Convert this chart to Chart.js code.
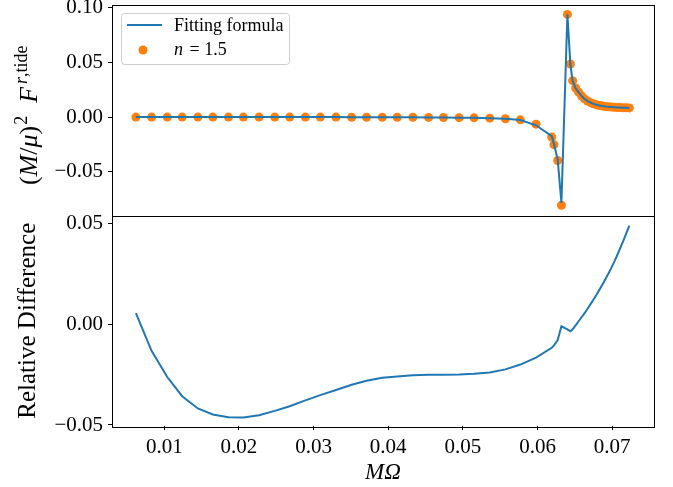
<!DOCTYPE html>
<html>
<head>
<meta charset="utf-8">
<script src="https://cdn.jsdelivr.net/npm/chart.js@4.4.0/dist/chart.umd.min.js"></script>
<style>
  html, body { margin: 0; background: #fff; }
  #wrap { width: 673px; height: 487px; }
</style>
</head>
<body>
<div id="wrap"><canvas id="chart" width="673" height="487"></canvas></div>
<script>
// M*Omega sample points (shared by both panels)
const omega = [
  0.0062, 0.0083, 0.0104, 0.0124, 0.0145, 0.0165, 0.0186, 0.0206, 0.0227, 0.0248,
  0.0268, 0.0289, 0.0309, 0.0330, 0.0351, 0.0371, 0.0392, 0.0412, 0.0433, 0.0454,
  0.0474, 0.0495, 0.0515, 0.0536, 0.0557, 0.0577, 0.0598,
  0.0619, 0.0622, 0.0627, 0.0632, 0.0640, 0.0644, 0.0647, 0.0651,
  0.0655, 0.0659, 0.0663, 0.0667, 0.0671, 0.0675, 0.0679, 0.0683, 0.0687, 0.0691,
  0.0695, 0.0699, 0.0703, 0.0707, 0.0711, 0.0715, 0.0719, 0.0723
];
// n = 1.5 data points
const forceData = [
  0, 0, 0, 0, 0, 0, 0, 0, 0, 0,
  0, 0, 0, 0, -0.0001, -0.0001, -0.0001, -0.0002, -0.0002, -0.0003,
  -0.0004, -0.0005, -0.0007, -0.0010, -0.0015, -0.0025, -0.0065,
  -0.0182, -0.0252, -0.0397, -0.0806, 0.0939, 0.0485, 0.0333, 0.0266,
  0.0228, 0.0193, 0.0166, 0.0147, 0.0132, 0.0121, 0.0113, 0.0106, 0.0101, 0.0097,
  0.0094, 0.0092, 0.0090, 0.0088, 0.0087, 0.0086, 0.0085, 0.0084
];
// fitting formula
const forceFit = [
  0, 0, 0, 0, 0, 0, 0, 0, 0, 0,
  0, 0, 0, 0, -0.0001, -0.0001, -0.0001, -0.0002, -0.0002, -0.0003,
  -0.0004, -0.0005, -0.0007, -0.0010, -0.0015, -0.0027, -0.0075,
  -0.0175, -0.0245, -0.0390, -0.0785, 0.0939, 0.0480, 0.0330, 0.0264,
  0.0226, 0.0192, 0.0165, 0.0146, 0.0132, 0.0121, 0.0113, 0.0106, 0.0101, 0.0097,
  0.0094, 0.0092, 0.0090, 0.0088, 0.0087, 0.0086, 0.0085, 0.0084
];
// relative difference
const relDiff = [
  0.0055, -0.0132, -0.0262, -0.0357, -0.0418, -0.0448, -0.0462, -0.0463, -0.0452, -0.0430,
  -0.0407, -0.0378, -0.0352, -0.0326, -0.0300, -0.0280, -0.0266, -0.0259, -0.0253, -0.0251,
  -0.0250, -0.0249, -0.0246, -0.0239, -0.0224, -0.0200, -0.0166,
  -0.0117, -0.0105, -0.0078, -0.0010, -0.0025, -0.0035, -0.0025, -0.0005,
  0.0015, 0.0035, 0.0055, 0.0077, 0.0100, 0.0123, 0.0147, 0.0172, 0.0198, 0.0225,
  0.0252, 0.0281, 0.0312, 0.0345, 0.0380, 0.0415, 0.0452, 0.0490
];
const xTicks = [0.01, 0.02, 0.03, 0.04, 0.05, 0.06, 0.07];
const yTicksTop = [-0.05, 0, 0.05, 0.10];
const yTicksBottom = [-0.05, 0, 0.05];

const BLUE = '#1f77b4', ORANGE = '#ff7f0e';
const SERIF = '"Liberation Serif", "DejaVu Serif", serif';

const fmt = v => (v < 0 ? '\u2212' : '') + Math.abs(v).toFixed(2);
const pts = ys => omega.map((x, i) => ({ x, y: ys[i] }));

const tickGrid = { drawOnChartArea: false, drawTicks: true, tickLength: 4, color: '#000', lineWidth: 1 };
const tickFont = { family: SERIF, size: 21 };

// fixed axis width, and don't let tick labels push the plot area around
const fitY = s => { s.width = 112; s.paddingTop = 0; s.paddingBottom = 0; };

// frame around each panel, matplotlib style
const framePlugin = {
  id: 'frame',
  afterDraw(chart) {
    const { ctx, chartArea: a } = chart;
    ctx.save();
    ctx.strokeStyle = '#000';
    ctx.lineWidth = 1;
    ['yT', 'yB'].forEach(id => {
      const s = chart.scales[id];
      ctx.strokeRect(Math.round(a.left) + 0.5, Math.round(s.top) + 0.5,
        Math.round(a.right - a.left), Math.round(s.bottom - s.top));
    });
    ctx.restore();
  }
};

// legend box inside top panel
const legendPlugin = {
  id: 'inLegend',
  afterDraw(chart) {
    const { ctx } = chart;
    const a = chart.chartArea;
    const x0 = a.left + 9, y0 = chart.scales.yT.top + 8, w = 168, h = 51;
    ctx.save();
    ctx.fillStyle = 'rgba(255,255,255,0.8)';
    ctx.strokeStyle = '#cccccc';
    ctx.lineWidth = 1;
    ctx.beginPath();
    ctx.roundRect(x0 + 0.5, y0 + 0.5, w, h, 3);
    ctx.fill();
    ctx.stroke();
    // line entry
    ctx.strokeStyle = BLUE;
    ctx.lineWidth = 2;
    ctx.beginPath();
    ctx.moveTo(x0 + 6, y0 + 12);
    ctx.lineTo(x0 + 41, y0 + 12);
    ctx.stroke();
    ctx.fillStyle = '#000';
    ctx.textBaseline = 'middle';
    ctx.font = `18px ${SERIF}`;
    ctx.fillText(chart.data.datasets[0].label, x0 + 53, y0 + 13);
    // marker entry
    ctx.fillStyle = ORANGE;
    ctx.beginPath();
    ctx.arc(x0 + 22, y0 + 37, 4.5, 0, Math.PI * 2);
    ctx.fill();
    ctx.fillStyle = '#000';
    ctx.font = `italic 18px ${SERIF}`;
    ctx.fillText('n', x0 + 53, y0 + 37);
    const nw = ctx.measureText('n').width;
    ctx.font = `18px ${SERIF}`;
    ctx.fillText(' = 1.5', x0 + 53 + nw + 2, y0 + 37);
    ctx.restore();
  }
};

// top y label with superscripts
const topLabelPlugin = {
  id: 'topLabel',
  afterDraw(chart) {
    const { ctx } = chart;
    const s = chart.scales.yT;
    const parts = [
      { t: '(', it: false }, { t: 'M', it: true }, { t: '/', it: false }, { t: '\u03bc', it: true },
      { t: ')', it: false }, { t: '2', sup: true, gap: 1 }, { t: '  ', it: false }, { t: 'F', it: true },
      { t: 'r', it: true, sup: true, gap: 3 }, { t: ',tide', sup: true }
    ];
    const fontOf = p => `${p.it ? 'italic ' : ''}${p.sup ? 18 : 26}px ${SERIF}`;
    ctx.save();
    let total = 0;
    parts.forEach(p => { ctx.font = fontOf(p); p.w = ctx.measureText(p.t).width; total += p.w + (p.gap || 0); });
    ctx.translate(37, (s.top + s.bottom) / 2 + 5);
    ctx.rotate(-Math.PI / 2);
    ctx.fillStyle = '#000';
    ctx.textBaseline = 'alphabetic';
    let x = -total / 2;
    parts.forEach(p => {
      ctx.font = fontOf(p);
      x += p.gap || 0;
      ctx.fillText(p.t, x, p.sup ? -10 : 0);
      x += p.w;
    });
    ctx.restore();
  }
};

new Chart(document.getElementById('chart'), {
  type: 'scatter',
  data: {
    datasets: [
      { label: 'Fitting formula', data: pts(forceFit), yAxisID: 'yT', showLine: true,
        borderColor: BLUE, borderWidth: 2, pointRadius: 0, order: 0 },
      { label: 'n = 1.5', data: pts(forceData), yAxisID: 'yT', showLine: false,
        backgroundColor: ORANGE, borderWidth: 0, pointRadius: 4.5, order: 1 },
      { label: 'Relative Difference', data: pts(relDiff), yAxisID: 'yB', showLine: true,
        borderColor: BLUE, borderWidth: 2, pointRadius: 0, order: 0 }
    ]
  },
  options: {
    responsive: false,
    animation: false,
    devicePixelRatio: 1,
    layout: { padding: { top: 5, right: 19, left: 0, bottom: 0 } },
    plugins: { legend: { display: false }, tooltip: { enabled: false } },
    scales: {
      x: {
        type: 'linear', min: 0.0030, max: 0.0756,
        afterBuildTicks: s => { s.ticks = xTicks.map(v => ({ value: v })); },
        afterFit: s => { s.height = 61; s.paddingLeft = 0; s.paddingRight = 0; },
        ticks: { font: tickFont, color: '#000', padding: 5, maxRotation: 0, callback: v => v.toFixed(2) },
        grid: tickGrid, border: { display: false },
        title: { display: true, text: 'M\u03a9', color: '#000', padding: { top: 4, bottom: 0 },
          font: { family: SERIF, size: 23, style: 'italic' } }
      },
      // bottom panel is listed first: stacked axes fill from the bottom up
      yB: {
        type: 'linear', position: 'left', stack: 'panels', stackWeight: 1,
        min: -0.0505, max: 0.054,
        afterBuildTicks: s => { s.ticks = yTicksBottom.map(v => ({ value: v })); },
        afterFit: fitY,
        ticks: { font: tickFont, color: '#000', padding: 5, callback: fmt },
        grid: tickGrid, border: { display: false },
        title: { display: true, text: 'Relative Difference', color: '#000', padding: { top: 13, bottom: 0 },
          font: { family: SERIF, size: 25 } }
      },
      yT: {
        type: 'linear', position: 'left', stack: 'panels', stackWeight: 1,
        min: -0.0900, max: 0.1025,
        afterBuildTicks: s => { s.ticks = yTicksTop.map(v => ({ value: v })); },
        afterFit: fitY,
        ticks: { font: tickFont, color: '#000', padding: 5, callback: fmt },
        grid: tickGrid, border: { display: false }
      }
    }
  },
  plugins: [framePlugin, legendPlugin, topLabelPlugin]
});
</script>
</body>
</html>
